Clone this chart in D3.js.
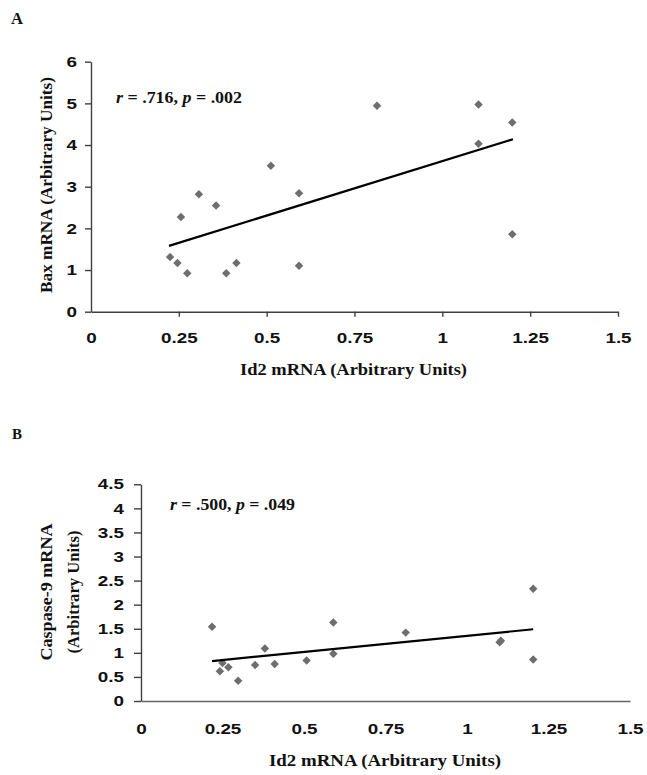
<!DOCTYPE html>
<html>
<head>
<meta charset="utf-8">
<script src="https://cdn.jsdelivr.net/npm/d3@7"></script>
<style>
  html, body { margin: 0; padding: 0; background: #fff; }
  svg { display: block; }
</style>
</head>
<body>
<svg id="chart" width="647" height="775"></svg>
<script>
// ---- Data ----
const id2 = [0.225, 0.246, 0.256, 0.274, 0.307, 0.356, 0.385, 0.414, 0.512, 0.592, 0.592, 0.814, 1.103, 1.103, 1.199, 1.199];
const bax = [1.31, 1.17, 2.27, 0.92, 2.82, 2.55, 0.92, 1.17, 3.50, 2.84, 1.10, 4.94, 4.97, 4.03, 4.54, 1.86];

const id2B = [0.218, 0.242, 0.250, 0.268, 0.298, 0.350, 0.380, 0.410, 0.508, 0.590, 0.590, 0.812, 1.100, 1.104, 1.203, 1.203];
const casp9 = [1.54, 0.62, 0.79, 0.70, 0.42, 0.75, 1.09, 0.77, 0.84, 1.63, 0.98, 1.42, 1.22, 1.25, 2.33, 0.86];

const trendAx = [0.222, 1.201];
const trendAy = [1.58, 4.14];
const trendBx = [0.218, 1.203];
const trendBy = [0.83, 1.49];

const xTicks = [0, 0.25, 0.5, 0.75, 1, 1.25, 1.5];
const yTicksA = [0, 1, 2, 3, 4, 5, 6];
const yTicksB = [0, 0.5, 1, 1.5, 2, 2.5, 3, 3.5, 4, 4.5];

const xTitle = "Id2 mRNA (Arbitrary Units)";
const yTitleA = "Bax mRNA (Arbitrary Units)";
const yTitleB = ["Caspase-9 mRNA", "(Arbitrary Units)"];
const statA = [".716", ".002"];
const statB = [".500", ".049"];

// ---- Drawing ----
const svg = d3.select("#chart");
const SANS = "'Liberation Sans', Arial, sans-serif";
const SERIF = "'Liberation Serif', 'Times New Roman', serif";
const AXIS_COL = "#3f3f3f";
const PT_COL = "#6e6e6e";
const TICK_FS = 14.5;     // px
const TICK_STRETCH = 1.3; // glyphs in the original are horizontally wide
const SERIF_FS = "16.6px";

function styleAxis(g, col, w) {
  g.select(".domain").attr("stroke", col).attr("stroke-width", w);
  g.selectAll(".tick line").attr("stroke", col).attr("stroke-width", w);
  g.selectAll(".tick text")
    .attr("fill", "#111")
    .style("font-family", SANS)
    .style("font-weight", "bold")
    .style("font-size", TICK_FS + "px");
}

function panel(opts) {
  const x = d3.scaleLinear().domain([0, 1.5]).range(opts.xr);
  const y = d3.scaleLinear().domain(opts.yd).range(opts.yr);

  // x axis
  const xa = svg.append("g")
    .attr("transform", `translate(0,${opts.yr[0]})`)
    .call(d3.axisBottom(x).tickValues(xTicks).tickFormat(d => String(d))
      .tickSizeInner(opts.xTickSize).tickSizeOuter(0).tickPadding(opts.xPad));
  styleAxis(xa, opts.xAxisCol, 1.4);
  xa.selectAll(".tick").filter(d => d === 0).select("line").remove();
  xa.selectAll(".tick text").attr("transform", `scale(${TICK_STRETCH},1)`);

  // y axis
  const ya = svg.append("g")
    .attr("transform", `translate(${opts.xr[0]},0)`)
    .call(d3.axisLeft(y).tickValues(opts.yTicks).tickFormat(d => String(d))
      .tickSizeInner(opts.yTickSize).tickSizeOuter(0).tickPadding(opts.yPad));
  styleAxis(ya, AXIS_COL, 1.4);
  ya.selectAll(".tick text")
    .attr("x", 0)
    .attr("transform", `translate(${-(opts.yTickSize + opts.yPad)},0) scale(${TICK_STRETCH},1)`);

  // points
  const sym = d3.symbol().type(d3.symbolSquare).size(opts.ptSize);
  svg.append("g").selectAll("path")
    .data(opts.xs.map((v, i) => [v, opts.ys[i]]))
    .join("path")
    .attr("d", sym)
    .attr("fill", PT_COL)
    .attr("transform", d => `translate(${x(d[0])},${y(d[1])}) rotate(45)`);

  // trend line
  svg.append("path")
    .datum(opts.tx.map((v, i) => [v, opts.ty[i]]))
    .attr("d", d3.line().x(d => x(d[0])).y(d => y(d[1])))
    .attr("fill", "none")
    .attr("stroke", "#000")
    .attr("stroke-width", 2.2);

  // stat annotation
  const t = svg.append("text")
    .attr("x", opts.statPos[0]).attr("y", opts.statPos[1])
    .attr("textLength", opts.statLen).attr("lengthAdjust", "spacingAndGlyphs")
    .style("font-family", SERIF).style("font-weight", "bold").style("font-size", SERIF_FS)
    .attr("fill", "#111");
  t.append("tspan").style("font-style", "italic").text("r");
  t.append("tspan").text(` = ${opts.stat[0]}, `);
  t.append("tspan").style("font-style", "italic").text("p");
  t.append("tspan").text(` = ${opts.stat[1]}`);

  // x title
  svg.append("text")
    .attr("x", opts.xTitlePos[0]).attr("y", opts.xTitlePos[1])
    .attr("text-anchor", "middle")
    .attr("textLength", opts.xTitleLen).attr("lengthAdjust", "spacingAndGlyphs")
    .style("font-family", SERIF).style("font-weight", "bold").style("font-size", SERIF_FS)
    .attr("fill", "#111")
    .text(xTitle);

  // y title
  opts.yTitle.forEach((line, i) => {
    svg.append("text")
      .attr("transform", `translate(${opts.yTitleX[i]},${opts.yTitleY}) rotate(-90)`)
      .attr("text-anchor", "middle")
      .attr("dy", "0.35em")
      .attr("textLength", opts.yTitleLen[i]).attr("lengthAdjust", "spacingAndGlyphs")
      .style("font-family", SERIF).style("font-weight", "bold").style("font-size", SERIF_FS)
      .attr("fill", "#111")
      .text(line);
  });

  // panel letter
  svg.append("text")
    .attr("x", opts.letterPos[0]).attr("y", opts.letterPos[1])
    .style("font-family", SERIF).style("font-weight", "bold").style("font-size", opts.letterSize)
    .attr("fill", "#111")
    .text(opts.letter);
}

panel({
  xr: [91, 618], yd: [0, 6], yr: [311.7, 61.7],
  yTicks: yTicksA, xTickSize: 5, xPad: 16, yTickSize: 6, yPad: 8,
  xAxisCol: AXIS_COL,
  xs: id2, ys: bax, tx: trendAx, ty: trendAy, ptSize: 36,
  stat: statA, statPos: [116, 103], statLen: 126,
  xTitlePos: [353.5, 374.5], xTitleLen: 227,
  yTitle: [yTitleA], yTitleX: [46.5], yTitleY: 185, yTitleLen: [216],
  letter: "A", letterPos: [11, 24.3], letterSize: "16.6px"
});

panel({
  xr: [141, 630], yd: [0, 4.5], yr: [701, 484.3],
  yTicks: yTicksB, xTickSize: 0, xPad: 22.5, yTickSize: 7, yPad: 10,
  xAxisCol: "#666",
  xs: id2B, ys: casp9, tx: trendBx, ty: trendBy, ptSize: 36,
  stat: statB, statPos: [170, 510], statLen: 125,
  xTitlePos: [385, 766], xTitleLen: 232,
  yTitle: yTitleB, yTitleX: [46.5, 73.3], yTitleY: 592, yTitleLen: [137, 123],
  letter: "B", letterPos: [12, 439], letterSize: "15px"
});
</script>
</body>
</html>
